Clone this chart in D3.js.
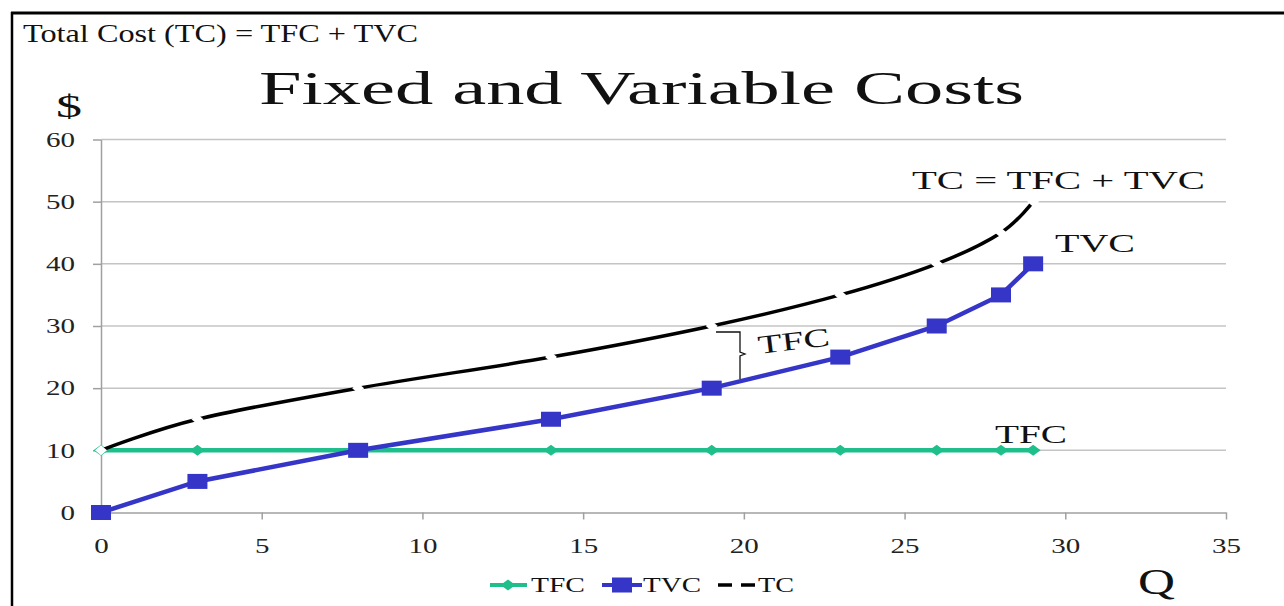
<!DOCTYPE html>
<html>
<head>
<meta charset="utf-8">
<script src="https://cdn.jsdelivr.net/npm/d3@7"></script>
<style>
  html, body { margin: 0; padding: 0; background: #fff; }
  svg { display: block; }
  text { font-family: "Liberation Serif", "Times New Roman", serif; }
</style>
</head>
<body>
<svg id="chart" width="1284" height="606"></svg>
<script>
// ---- data ----
const quantities = [0, 3, 8, 14, 19, 23, 26, 28, 29];
const tfcValues  = [10, 10, 10, 10, 10, 10, 10, 10, 10];
const tvcValues  = [0, 5, 10, 15, 20, 25, 30, 35, 40];
const tcValues   = [10, 15, 20, 25, 30, 35, 40, 45, 50];
const xTicks = [0, 5, 10, 15, 20, 25, 30, 35];
const yTicks = [0, 10, 20, 30, 40, 50, 60];
const seriesNames = ["TFC", "TVC", "TC"];

const svg = d3.select("#chart");
const x = d3.scaleLinear().domain([0, 35]).range([101, 1226]);
const y = d3.scaleLinear().domain([0, 60]).range([512.5, 139.5]);

const green = "#1fbf8c", blue = "#3535c8";

function stretch(sel, k) {
  sel.each(function () {
    const w = this.getComputedTextLength();
    d3.select(this).attr("textLength", w * k).attr("lengthAdjust", "spacingAndGlyphs");
  });
}
function label(tx, ty, str, size, width, anchor, fill) {
  return svg.append("text").attr("x", tx).attr("y", ty)
    .attr("font-size", size).attr("text-anchor", anchor || "start")
    .attr("fill", fill || "#111")
    .attr("textLength", width).attr("lengthAdjust", "spacingAndGlyphs")
    .text(str);
}

// border
svg.append("line").attr("x1", 11).attr("x2", 1284).attr("y1", 13).attr("y2", 13)
  .attr("stroke", "#000").attr("stroke-width", 3);
svg.append("line").attr("x1", 12).attr("x2", 12).attr("y1", 12).attr("y2", 606)
  .attr("stroke", "#000").attr("stroke-width", 2.5);

// header texts
label(23, 42, "Total Cost (TC) = TFC + TVC", 26, 395);
label(259, 104, "Fixed and Variable Costs", 46, 765, "start", "#111");
label(56, 117, "$", 32, 26);

// gridlines
svg.append("g").selectAll("line").data(yTicks.filter(d => d > 0)).join("line")
  .attr("x1", x(0)).attr("x2", x(35)).attr("y1", d => y(d)).attr("y2", d => y(d))
  .attr("stroke", "#c4c4c4").attr("stroke-width", 1.5);

// y axis
const yAxis = svg.append("g").attr("transform", `translate(${x(0)},0)`)
  .call(d3.axisLeft(y).tickValues(yTicks).tickSize(8).tickPadding(11).tickSizeOuter(0));
yAxis.select(".domain").attr("stroke", "#a0a0a0").attr("stroke-width", 1.5);
yAxis.selectAll(".tick line").attr("stroke", "#a0a0a0").attr("stroke-width", 1.5);
yAxis.selectAll(".tick text").attr("font-size", 20).attr("fill", "#222")
  .attr("font-family", "Liberation Serif, serif").attr("dy", "0.34em").attr("x", -26);
stretch(yAxis.selectAll(".tick text"), 1.45);

// x axis
const xAxis = svg.append("g").attr("transform", `translate(0,${y(0)})`)
  .call(d3.axisBottom(x).tickValues(xTicks).tickSize(7).tickPadding(20).tickSizeOuter(0));
xAxis.select(".domain").attr("stroke", "#a0a0a0").attr("stroke-width", 1.5);
xAxis.selectAll(".tick line").attr("stroke", "#a0a0a0").attr("stroke-width", 1.5);
xAxis.selectAll(".tick text").attr("font-size", 20).attr("fill", "#222")
  .attr("font-family", "Liberation Serif, serif").attr("dy", "0");
xAxis.selectAll(".tick text").attr("y", 40);
stretch(xAxis.selectAll(".tick text"), 1.45);

const pts = (vals) => quantities.map((q, i) => [q, vals[i]]);
const lin = d3.line().x(d => x(d[0])).y(d => y(d[1]));
const smooth = d3.line().x(d => x(d[0])).y(d => y(d[1])).curve(d3.curveCardinal.tension(0));

const diamond = (cx, cy, w, h) => `M${cx - w / 2},${cy}L${cx},${cy - h / 2}L${cx + w / 2},${cy}L${cx},${cy + h / 2}Z`;

// TFC
svg.append("path").attr("d", lin(pts(tfcValues))).attr("fill", "none")
  .attr("stroke", green).attr("stroke-width", 4.5);
svg.append("g").selectAll("path").data(pts(tfcValues)).join("path")
  .attr("d", d => diamond(x(d[0]), y(d[1]), 15, 11)).attr("fill", green);

// TVC
svg.append("path").attr("d", lin(pts(tvcValues))).attr("fill", "none")
  .attr("stroke", blue).attr("stroke-width", 4.5);
svg.append("g").selectAll("rect").data(pts(tvcValues)).join("rect")
  .attr("x", d => x(d[0]) - 10).attr("y", d => y(d[1]) - 7.5)
  .attr("width", 20).attr("height", 15).attr("fill", blue);

// TC
svg.append("path").attr("d", smooth(pts(tcValues))).attr("fill", "none")
  .attr("stroke", "#000").attr("stroke-width", 3.5);
svg.append("g").selectAll("path").data(pts(tcValues)).join("path")
  .attr("d", d => diamond(x(d[0]), y(d[1]), 12, 10)).attr("fill", "#fff");

// annotations
label(912, 189, "TC = TFC + TVC", 26, 293);
label(1055, 252, "TVC", 26, 80);
label(995, 443, "TFC", 26, 72);

// brace between TC and TVC
const bx = 740, byTop = 332, byBot = 379, byMid = 354;
svg.append("path")
  .attr("d", `M${bx - 24},${byTop}L${bx},${byTop}L${bx},${byMid - 2}L${bx + 5},${byMid}L${bx},${byMid + 2}L${bx},${byBot}`)
  .attr("fill", "none").attr("stroke", "#111").attr("stroke-width", 1.3);
svg.append("text").attr("transform", "translate(759,354) rotate(-7)")
  .attr("font-size", 26).attr("fill", "#111")
  .attr("textLength", 72).attr("lengthAdjust", "spacingAndGlyphs").text("TFC");

// legend
const ly = 585;
const lg = svg.append("g");
// TFC
lg.append("line").attr("x1", 490).attr("x2", 527).attr("y1", ly).attr("y2", ly)
  .attr("stroke", green).attr("stroke-width", 4);
lg.append("path").attr("d", diamond(508, ly, 15, 11)).attr("fill", green);
// TVC
lg.append("line").attr("x1", 602).attr("x2", 642).attr("y1", ly).attr("y2", ly)
  .attr("stroke", blue).attr("stroke-width", 4);
lg.append("rect").attr("x", 612).attr("y", ly - 7.5).attr("width", 20).attr("height", 15).attr("fill", blue);
// TC
lg.append("line").attr("x1", 718).attr("x2", 755).attr("y1", ly).attr("y2", ly)
  .attr("stroke", "#000").attr("stroke-width", 3.5).attr("stroke-dasharray", "14,9");
const legendX = [531, 643, 758], legendW = [54, 58, 36];
seriesNames.forEach((n, i) => label(legendX[i], ly + 7, n, 20, legendW[i], "start", "#111"));

// Q label
label(1138, 594, "Q", 36, 37);
</script>
</body>
</html>
